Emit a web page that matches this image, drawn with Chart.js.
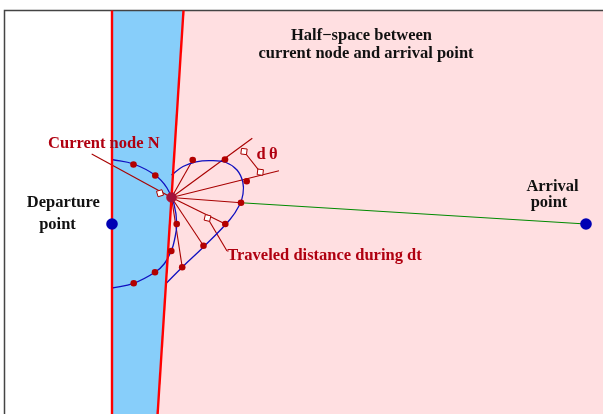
<!DOCTYPE html>
<html>
<head>
<meta charset="utf-8">
<script src="https://cdn.jsdelivr.net/npm/chart.js@4.4.0/dist/chart.umd.min.js"></script>
<style>
  html, body { margin: 0; padding: 0; background: #fff; }
  #wrap { width: 603px; height: 414px; }
</style>
</head>
<body>
<div id="wrap"><canvas id="fig"></canvas></div>
<script>
// figure coordinates, x to the right and y downwards
const frame = [{x: 4.5, y: 414}, {x: 4.5, y: 10.5}, {x: 603, y: 10.5}];
const halfSpace = [{x: 183.5, y: 10.5}, {x: 603, y: 10.5}, {x: 603, y: 414}, {x: 157.6, y: 414}];
const strip = [{x: 112, y: 10.5}, {x: 183.5, y: 10.5}, {x: 157.6, y: 414}, {x: 112, y: 414}];
const wallLeft = [{x: 112, y: 10.5}, {x: 112, y: 414}];
const wallRight = [{x: 183.5, y: 10.5}, {x: 157.6, y: 414}];

const nodeN = [{x: 171.5, y: 197.5}];
const departure = [{x: 112, y: 224}];
const arrival = [{x: 586, y: 224}];

// reachable front from the departure point (left) and from N (right)
const leftArc = [
  {x: 112, y: 159.5}, {x: 133.5, y: 164}, {x: 155.3, y: 175.3}, {x: 167, y: 188},
  {x: 174, y: 204}, {x: 176.7, y: 224}, {x: 174.5, y: 240}, {x: 171.3, y: 251},
  {x: 164.5, y: 263.5}, {x: 155, y: 272.3}, {x: 133.7, y: 283.3}, {x: 112, y: 288}
];
const rightLoop = [
  {x: 171.5, y: 175}, {x: 183, y: 166.5}, {x: 196, y: 161.8}, {x: 211, y: 160.6},
  {x: 226, y: 162.5}, {x: 237, y: 170}, {x: 242.8, y: 182}, {x: 243, y: 194},
  {x: 239.5, y: 205}, {x: 230, y: 219.5}, {x: 204, y: 246.5}, {x: 182.2, y: 267.2},
  {x: 166, y: 283.5}
];

const samples = [
  {x: 133.5, y: 164.5}, {x: 155.3, y: 175.5}, {x: 176.7, y: 224}, {x: 171.3, y: 251},
  {x: 155, y: 272.3}, {x: 133.7, y: 283.3},
  {x: 192.7, y: 160}, {x: 225, y: 159.5}, {x: 246.7, y: 181.3}, {x: 241, y: 202.7},
  {x: 225.3, y: 224}, {x: 203.5, y: 245.8}, {x: 182.2, y: 267.2}
];
const rayEnds = [
  {x: 192.7, y: 160}, {x: 252.3, y: 138.3}, {x: 279, y: 170.7}, {x: 241, y: 202.7},
  {x: 225.3, y: 224}, {x: 203.5, y: 245.8}, {x: 182.2, y: 267.2}
];
const toArrival = [{x: 241, y: 202.7}, {x: 586, y: 224}];

const nodePointer = [{x: 91.7, y: 154}, {x: 171.5, y: 197.5}];
const travelPointer = [{x: 227, y: 251}, {x: 207.5, y: 218}];
const dthetaBar = [{x: 244, y: 151.5}, {x: 260.3, y: 172.2}];
const heads = [{x: 160, y: 193.2}, {x: 207.5, y: 218}, {x: 244, y: 151.5}, {x: 260.3, y: 172.2}];
const headAngles = [28.6, 58, 52, 52];

const labels = [
  {t: 'Half\u2212space between', x: 361.5, y: 36, c: '#111'},
  {t: 'current node and arrival point', x: 366, y: 54, c: '#111'},
  {t: 'Departure', x: 63.3, y: 203, c: '#111'},
  {t: 'point', x: 57.5, y: 224.5, c: '#111'},
  {t: 'Arrival', x: 552.5, y: 187, c: '#111'},
  {t: 'point', x: 549, y: 203, c: '#111'},
  {t: 'Current node N', x: 103.8, y: 143.5, c: '#b00010'},
  {t: 'Traveled distance during dt', x: 324.5, y: 256, c: '#b00010'},
  {t: 'd\u2009\u03b8', x: 267, y: 155, c: '#b00010'}
];

const red = '#a80000';

function line(data, color, width, order, extra) {
  return Object.assign({data, borderColor: color, borderWidth: width, pointRadius: 0,
    fill: false, tension: 0, order}, extra || {});
}

const datasets = [
  line(halfSpace, '#ffdfe1', 0, 20, {fill: 'shape', backgroundColor: '#ffdfe1'}),
  line(strip, '#87cefa', 0, 19, {fill: 'shape', backgroundColor: '#87cefa'}),
  line(frame, '#444', 1.5, 18),
  line(toArrival, '#008a00', 1.1, 17),
  ...rayEnds.map(e => line([nodeN[0], e], red, 1.1, 16)),
  line(nodePointer, red, 1.1, 16),
  line(travelPointer, red, 1.1, 16),
  line(dthetaBar, red, 1.1, 16),
  line(leftArc, '#1010c0', 1.3, 15, {tension: 0.4}),
  line(rightLoop, '#1010c0', 1.3, 15, {tension: 0.4}),
  line(wallLeft, '#ff0000', 2.4, 14),
  line(wallRight, '#ff0000', 2.4, 14),
  {data: heads, showLine: false, order: 13, pointStyle: 'rectRot', pointRadius: 4,
    pointRotation: headAngles, pointBackgroundColor: '#fff', pointBorderColor: red, pointBorderWidth: 1},
  {data: samples, showLine: false, order: 12, pointRadius: 3.3, pointBackgroundColor: '#b30000',
    pointBorderWidth: 0},
  {data: nodeN, showLine: false, order: 11, pointRadius: 5, pointBackgroundColor: '#a3123a',
    pointBorderColor: '#c0102a', pointBorderWidth: 0.5},
  {data: departure.concat(arrival), showLine: false, order: 10, pointRadius: 5.8,
    pointBackgroundColor: '#0000b4', pointBorderWidth: 0}
];

const textPlugin = {
  id: 'figureLabels',
  afterDatasetsDraw(chart) {
    const {ctx, scales} = chart;
    ctx.save();
    ctx.textAlign = 'center';
    ctx.textBaseline = 'middle';
    labels.forEach(l => {
      ctx.font = 'bold 16.5px "Liberation Serif", "DejaVu Serif", serif';
      ctx.fillStyle = l.c;
      ctx.fillText(l.t, scales.x.getPixelForValue(l.x), scales.y.getPixelForValue(l.y));
    });
    ctx.restore();
  }
};

new Chart(document.getElementById('fig'), {
  type: 'line',
  data: {datasets},
  options: {
    responsive: true,
    maintainAspectRatio: false,
    animation: false,
    events: [],
    layout: {padding: 0, autoPadding: false},
    scales: {
      x: {type: 'linear', min: 0, max: 603, display: false},
      y: {type: 'linear', min: 0, max: 414, reverse: true, display: false}
    },
    plugins: {legend: {display: false}, tooltip: {enabled: false}}
  },
  plugins: [textPlugin]
});
</script>
</body>
</html>
